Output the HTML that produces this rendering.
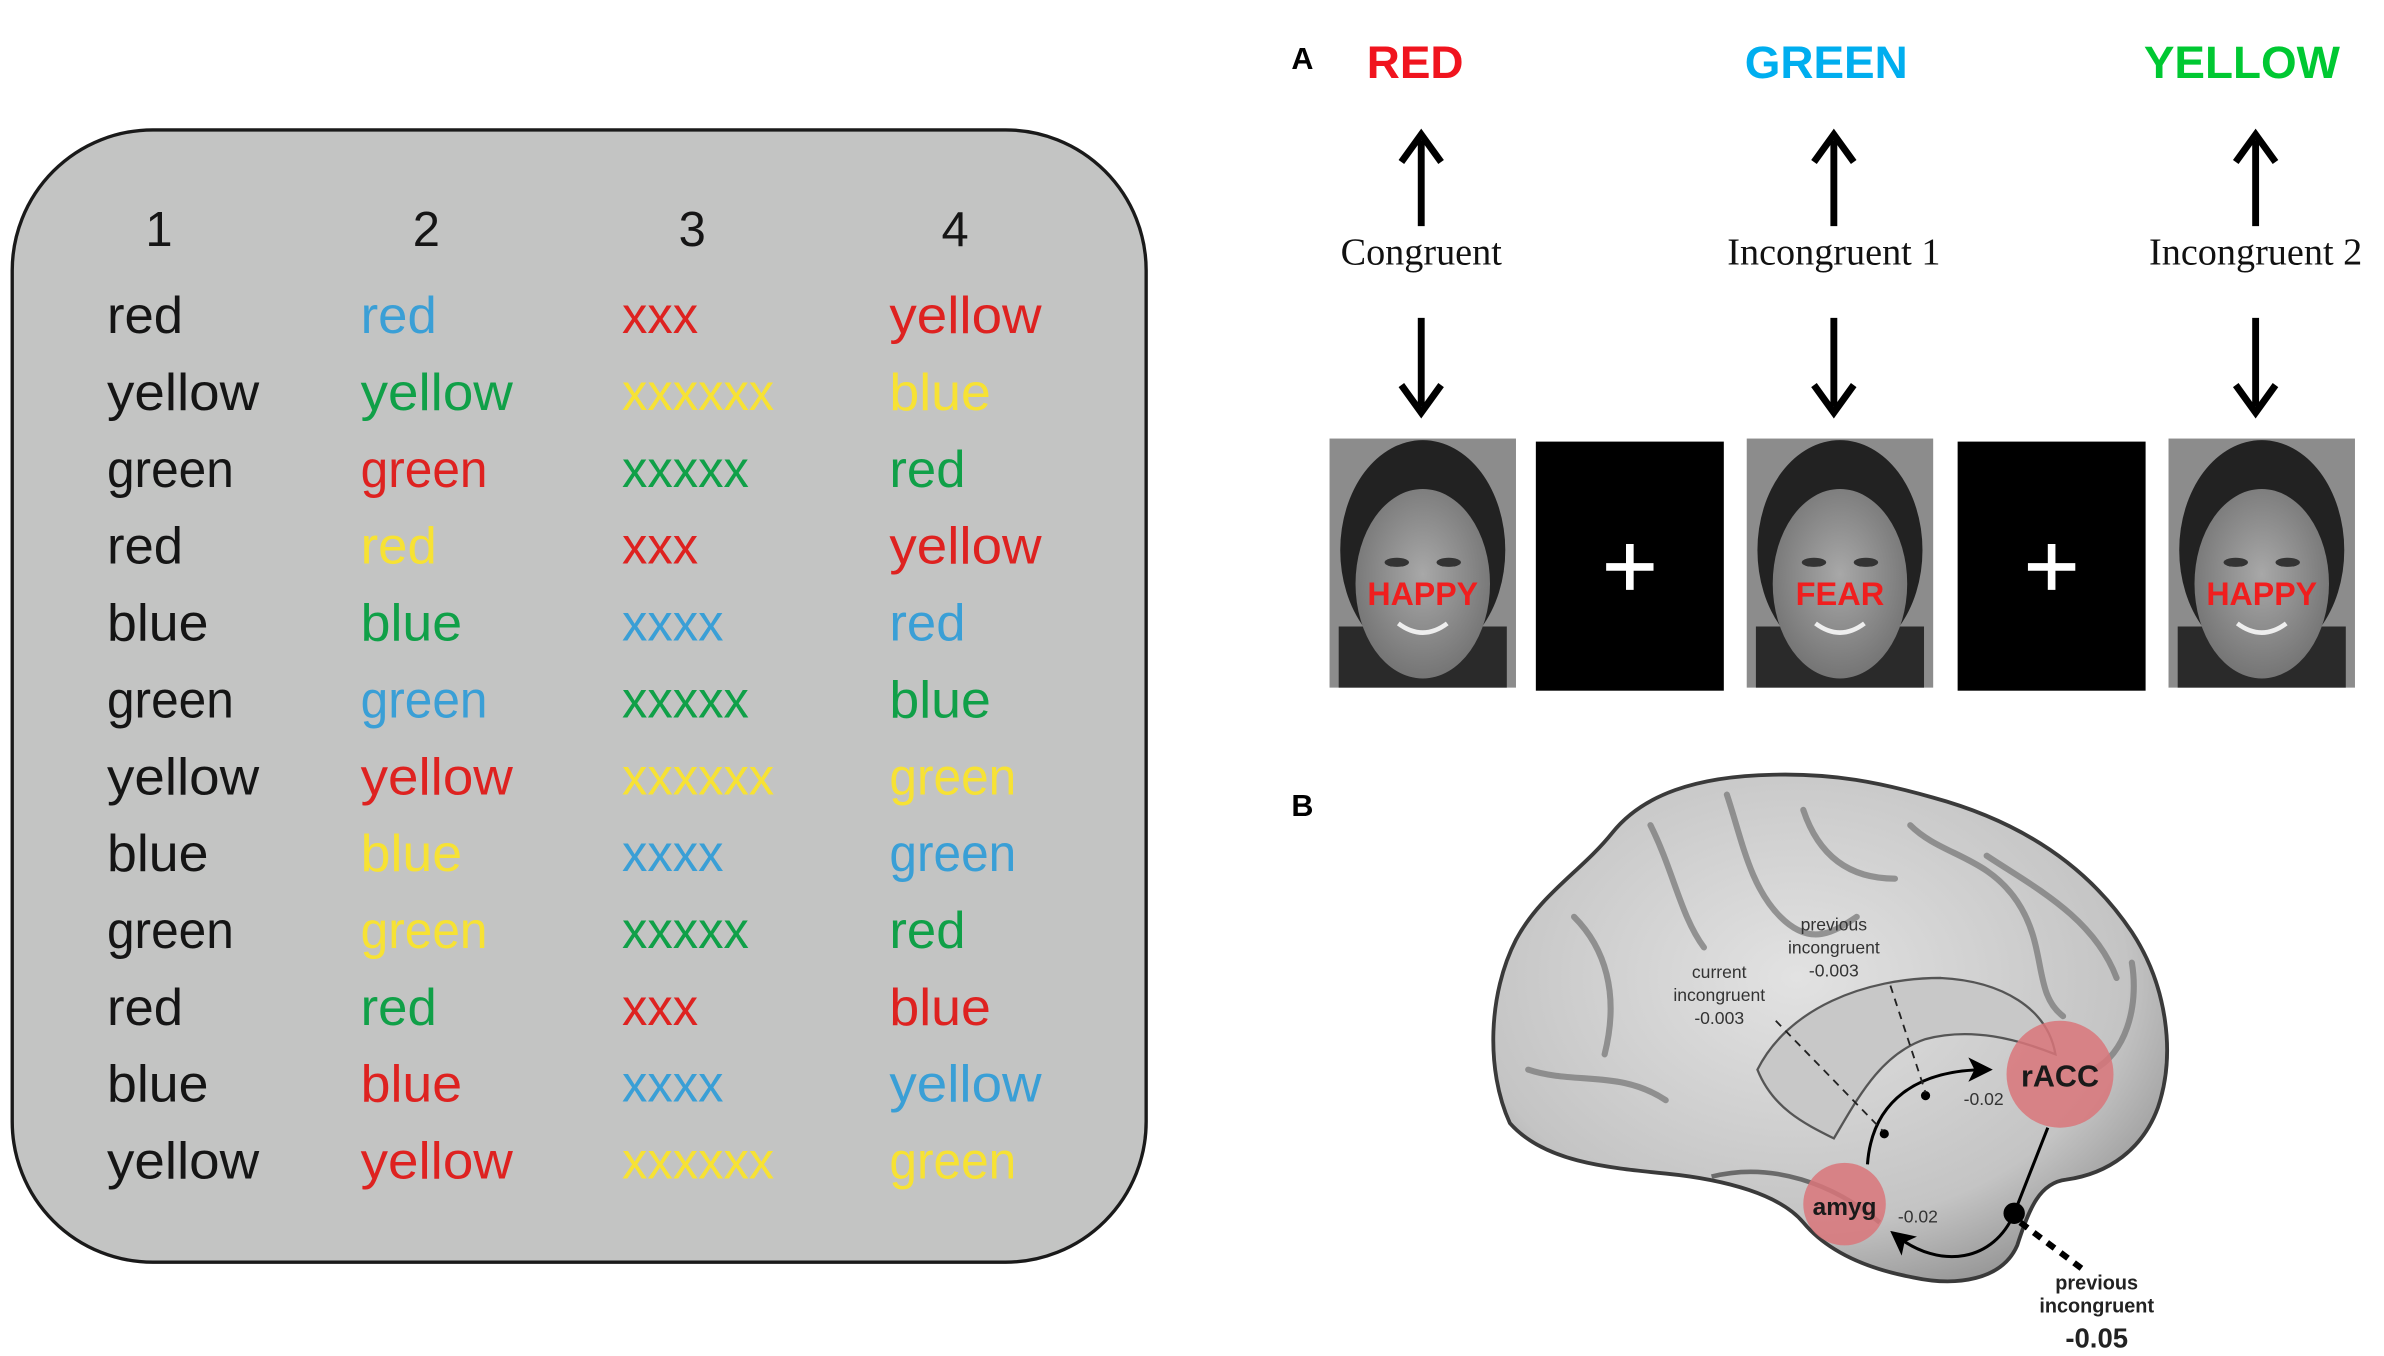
<!DOCTYPE html>
<html><head><meta charset="utf-8"><style>
html,body{margin:0;padding:0;background:#fff;}
svg{display:block;}
</style></head><body>
<svg id="fig" width="2384" height="1356" viewBox="0 0 1560 887.4" preserveAspectRatio="none" xmlns="http://www.w3.org/2000/svg">
<defs>
<radialGradient id="brainGrad" cx="0.45" cy="0.4" r="0.7">
<stop offset="0" stop-color="#e2e2e2"/><stop offset="0.7" stop-color="#c4c4c4"/><stop offset="1" stop-color="#8a8a8a"/>
</radialGradient>
<radialGradient id="faceGrad" cx="0.5" cy="0.45" r="0.6">
<stop offset="0" stop-color="#a8a8a8"/><stop offset="1" stop-color="#707070"/>
</radialGradient>
<marker id="ah" markerWidth="8" markerHeight="8" refX="6" refY="4" orient="auto" markerUnits="strokeWidth"><path d="M0,0 L8,4 L0,8 L2,4 Z" fill="#000"/></marker>
</defs>
<rect x="8" y="85" width="742" height="741" rx="92" ry="92" fill="#c3c4c3" stroke="#1a1a1a" stroke-width="2.2"/>
<g id="table" font-family="'Liberation Sans', sans-serif"></g>

<text x="845" y="45" font-family="'Liberation Sans',sans-serif" font-weight="bold" font-size="20">A</text>
<g id="panelA"></g>

<text x="845" y="534" font-family="'Liberation Sans',sans-serif" font-weight="bold" font-size="20">B</text>
<g>
<path d="M988,735 C972,700 974,650 992,615 C1008,585 1035,570 1055,545 C1075,520 1110,508 1160,507 C1200,506 1230,512 1265,522 C1320,537 1365,565 1395,610 C1418,645 1424,690 1412,725 C1402,752 1380,768 1352,772 C1335,774 1328,790 1320,815 C1310,838 1280,842 1252,836 C1220,830 1195,818 1180,800 C1165,782 1130,772 1090,768 C1050,764 1010,760 988,735 Z" fill="url(#brainGrad)" stroke="#3a3a3a" stroke-width="2.5"/>
<g fill="none" stroke="#7a7a7a" stroke-width="4" stroke-linecap="round" opacity="0.75">
<path d="M1030,600 C1050,620 1060,650 1050,690"/>
<path d="M1080,540 C1095,570 1100,600 1115,620"/>
<path d="M1130,520 C1140,550 1145,580 1165,600 C1185,620 1200,610 1215,600"/>
<path d="M1180,530 C1190,560 1210,575 1240,575"/>
<path d="M1250,540 C1270,560 1300,560 1320,590 C1340,620 1330,650 1350,665"/>
<path d="M1300,560 C1330,580 1370,600 1385,640"/>
<path d="M1000,700 C1030,710 1060,700 1090,720"/>
<path d="M1370,700 C1390,690 1400,660 1395,630"/>
</g>
<path d="M1150,700 C1170,660 1220,640 1270,640 C1310,642 1340,660 1345,690 C1320,680 1290,672 1260,680 C1230,690 1215,720 1200,745 C1180,735 1160,725 1150,700 Z" fill="#c8c8c8" stroke="#555" stroke-width="1.5"/>
<path d="M1120,770 C1160,760 1200,775 1230,800" fill="none" stroke="#6a6a6a" stroke-width="3"/>
<circle cx="1348" cy="703" r="35" fill="#d9767a" opacity="0.85"/>
<circle cx="1207" cy="788" r="27" fill="#d9767a" opacity="0.85"/>
<text x="1348" y="711" text-anchor="middle" font-family="'Liberation Sans',sans-serif" font-weight="bold" font-size="20" fill="#1a1a1a">rACC</text>
<text x="1207" y="795" text-anchor="middle" font-family="'Liberation Sans',sans-serif" font-weight="bold" font-size="16" fill="#1a1a1a">amyg</text>
<path d="M1222,762 C1225,720 1255,700 1300,700" fill="none" stroke="#000" stroke-width="2" marker-end="url(#ah)"/>
<path d="M1340,738 L1318,794 C1305,825 1270,832 1240,808" fill="none" stroke="#000" stroke-width="2" marker-end="url(#ah)"/>
<circle cx="1318" cy="794" r="7" fill="#000"/>
<circle cx="1260" cy="717" r="3" fill="#000"/>
<circle cx="1233" cy="742" r="3" fill="#000"/>
<line x1="1322" y1="800" x2="1362" y2="830" stroke="#000" stroke-width="4" stroke-dasharray="6,5"/>
<line x1="1162" y1="668" x2="1232" y2="740" stroke="#222" stroke-width="1.2" stroke-dasharray="5,4"/>
<line x1="1237" y1="645" x2="1260" y2="715" stroke="#222" stroke-width="1.2" stroke-dasharray="5,4"/>
<g font-family="'Liberation Sans',sans-serif" fill="#333" font-size="11.5" text-anchor="middle">
<text x="1125" y="640">current</text>
<text x="1125" y="655">incongruent</text>
<text x="1125" y="670">-0.003</text>
<text x="1200" y="609">previous</text>
<text x="1200" y="624">incongruent</text>
<text x="1200" y="639">-0.003</text>
<text x="1298" y="723">-0.02</text>
<text x="1255" y="800">-0.02</text>
</g>
<g font-family="'Liberation Sans',sans-serif" fill="#222" font-weight="bold" text-anchor="middle">
<text x="1372" y="844" font-size="13">previous</text>
<text x="1372" y="859" font-size="13">incongruent</text>
<text x="1372" y="882" font-size="18">-0.05</text>
</g>
</g>
</svg>
<script>
const NS='http://www.w3.org/2000/svg';
const headers=['1','2','3','4'];
const col1Words=['red','yellow','green','red','blue','green','yellow','blue','green','red','blue','yellow'];
const col1Colors=['k','k','k','k','k','k','k','k','k','k','k','k'];
const col2Words=['red','yellow','green','red','blue','green','yellow','blue','green','red','blue','yellow'];
const col2Colors=['b','g','r','y','g','b','r','y','y','g','r','r'];
const col3Words=['xxx','xxxxxx','xxxxx','xxx','xxxx','xxxxx','xxxxxx','xxxx','xxxxx','xxx','xxxx','xxxxxx'];
const col3Colors=['r','y','g','r','b','g','y','b','g','r','b','y'];
const col4Words=['yellow','blue','red','yellow','red','blue','green','green','red','blue','yellow','green'];
const col4Colors=['r','y','g','r','b','g','y','b','g','r','b','y'];
const palette={k:'#151515',b:'#3a9fd6',g:'#10a048',r:'#de2220',y:'#f7e234'};
const colX=[70,236,407,582];
const headX=[104,279,453,625];
const cols=[[col1Words,col1Colors],[col2Words,col2Colors],[col3Words,col3Colors],[col4Words,col4Colors]];
const table=document.getElementById('table');
headers.forEach((h,i)=>{
  const t=document.createElementNS(NS,'text');
  t.setAttribute('x',headX[i]);t.setAttribute('y',161);t.setAttribute('text-anchor','middle');
  t.setAttribute('font-size','32');t.setAttribute('fill','#151515');
  
  
  t.textContent=h;table.appendChild(t);
});
cols.forEach(([w,c],ci)=>{
  w.forEach((word,ri)=>{
    const t=document.createElementNS(NS,'text');
    t.setAttribute('x',colX[ci]);t.setAttribute('y',218+ri*50.3);
    t.setAttribute('font-size','34');t.setAttribute('fill',palette[c[ri]]);
    t.setAttribute('textLength',(word.length*16.6).toFixed(1));t.setAttribute('lengthAdjust','spacingAndGlyphs');
    
    
    t.textContent=word;table.appendChild(t);
  });
});
const inkWords=['RED','GREEN','YELLOW'];
const inkColors=['#f0141e','#00aeef','#00c832'];
const conditions=['Congruent','Incongruent 1','Incongruent 2'];
const faceWords=['HAPPY','FEAR','HAPPY'];
const condX=[930,1200,1476];
const pA=document.getElementById('panelA');
function el(tag,attrs,parent){const e=document.createElementNS(NS,tag);for(const k in attrs)e.setAttribute(k,attrs[k]);(parent||pA).appendChild(e);return e;}
inkWords.forEach((w,i)=>{
  const x=condX[i];
  const t=el('text',{x:[926,1195,1467][i],y:51,'text-anchor':'middle','font-family':"'Liberation Sans',sans-serif",'font-weight':'bold','font-size':'30',fill:inkColors[i]});
  
  
  t.textContent=w;
  const up=el('path',{d:`M${x},148 L${x},92 M${x-13},106 L${x},88 L${x+13},106`,stroke:'#000','stroke-width':'4.5',fill:'none'});
  
  
  const c=el('text',{x:x,y:173,'text-anchor':'middle','font-family':"'Liberation Serif',serif",'font-size':'25',fill:'#111'});
  
  
  c.textContent=conditions[i];
  const dn=el('path',{d:`M${x},208 L${x},266 M${x-13},252 L${x},270 L${x+13},252`,stroke:'#000','stroke-width':'4.5',fill:'none'});
  
  
});
const frameX=[870,1005,1143,1281,1419];
const frameKind=['face','fix','face','fix','face'];
let fi=0;
frameX.forEach((x,i)=>{
  const g=el('g',{});
  if(frameKind[i]==='fix'){
    
    
    el('rect',{x:x,y:289,width:123,height:163,fill:'#000'},g);
    el('path',{d:`M${x+61.5},356 L${x+61.5},386 M${x+46},371 L${x+77},371`,stroke:'#fff','stroke-width':'5'},g);
  } else {
    
    
    el('rect',{x:x,y:287,width:122,height:163,fill:'#8c8c8c'},g);
    el('ellipse',{cx:x+61,cy:360,rx:54,ry:72,fill:'#222'},g);
    el('rect',{x:x+6,y:410,width:110,height:40,fill:'#2a2a2a'},g);
    el('ellipse',{cx:x+61,cy:382,rx:44,ry:62,fill:'url(#faceGrad)'},g);
    el('ellipse',{cx:x+44,cy:368,rx:8,ry:3,fill:'#333'},g);
    el('ellipse',{cx:x+78,cy:368,rx:8,ry:3,fill:'#333'},g);
    el('path',{d:`M${x+45},408 Q${x+61},420 ${x+77},408`,stroke:'#eee','stroke-width':'3',fill:'none'},g);
    const t=el('text',{x:x+61,y:396,'text-anchor':'middle','font-family':"'Liberation Sans',sans-serif",'font-weight':'bold','font-size':'21',fill:'#f01e1e',textLength:faceWords[fi].length*14.5,lengthAdjust:'spacingAndGlyphs'},g);
    
    
    t.textContent=faceWords[fi++];
  }
});
</script>
</body></html>
